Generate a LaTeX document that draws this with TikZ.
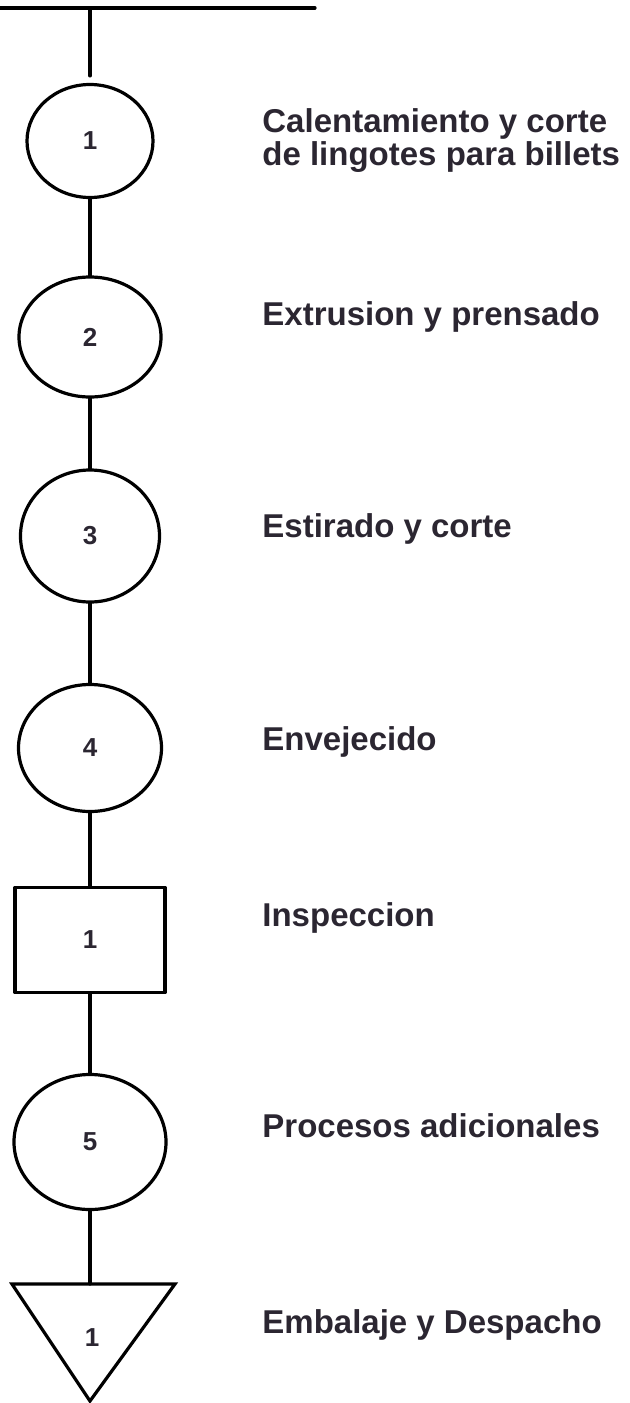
\documentclass[tikz,border=0pt]{standalone}
\usepackage{fontspec}
\setmainfont{Liberation Sans}
\usetikzlibrary{shapes.geometric}
\definecolor{ink}{HTML}{2B2631}
\tikzset{
  flow/.style={line width=1.6pt, black},
  opbox/.style={ellipse, draw, line width=1.6pt, inner sep=0pt,
    font=\bfseries\fontsize{13}{13}\selectfont, text=ink},
  inspbox/.style={rectangle, draw, line width=1.6pt, inner sep=0pt,
    font=\bfseries\fontsize{13}{13}\selectfont, text=ink},
  desc/.style={anchor=base west, align=left, inner sep=0pt,
    font=\bfseries\fontsize{16.5}{16.5}\selectfont, text=ink},
}
\begin{document}
\begin{tikzpicture}[x=0.5pt, y=-0.5pt, line join=round, line cap=round]
				\useasboundingbox (0,0) rectangle (629,1403);
				
				% barra superior
				\coordinate (barL) at (0,8);
				\coordinate (barR) at (315,8);
				\coordinate (bar) at (90,8);
				\draw[flow] (barL) -- (barR);
				
				% operaciones
				\foreach \n/\y/\w/\h/\t in {op1/141/126/113/1, op2/337/142/120/2, op3/536/139/132/3, op4/748/143/127/4, op5/1142/152/135/5} {
					\node[opbox, minimum width=\w*0.5pt, minimum height=\h*0.5pt] (\n) at (90,\y) {\t};
				}
				\node[inspbox, minimum width=75pt, minimum height=52.5pt] (insp) at (90,940) {1};
				
				% almacenamiento
				\coordinate (tl) at (12,1284);
				\coordinate (tr) at (175,1284);
				\coordinate (tb) at (90,1401);
				\coordinate (ttop) at (90,1284);
				\draw[flow, line join=miter] (tl) -- (tr) -- (tb) -- cycle;
				\node[font=\bfseries\fontsize{13}{13}\selectfont, text=ink] (alm) at (92,1338) {1};
				
				\draw[flow, shorten >=3.5pt] (bar) -- (op1.north);
				\draw[flow] (op1) -- (op2);
				\draw[flow] (op2) -- (op3);
				\draw[flow] (op3) -- (op4);
				\draw[flow] (op4) -- (insp);
				\draw[flow] (insp) -- (op5);
				\draw[flow] (op5.south) -- (ttop);
				
				\node[desc] (d1) at (262,165) {Calentamiento y corte\\de lingotes para billets};
				\node[desc] (d2) at (262,325) {Extrusion y prensado};
				\node[desc] (d3) at (262,537) {Estirado y corte};
				\node[desc] (d4) at (262,750) {Envejecido};
				\node[desc] (d5) at (262,926) {Inspeccion};
				\node[desc] (d6) at (262,1137) {Procesos adicionales};
				\node[desc] (d7) at (262,1333) {Embalaje y Despacho};
			\end{tikzpicture}
\end{document}
